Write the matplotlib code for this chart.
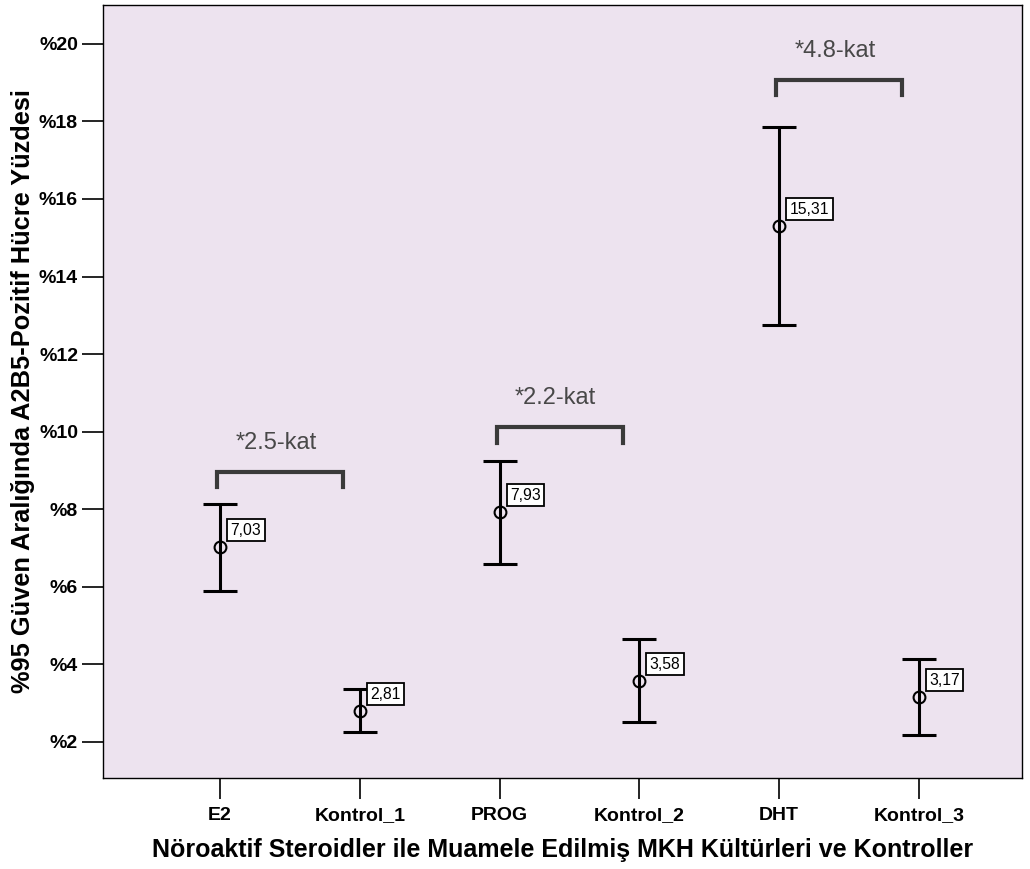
import matplotlib
matplotlib.use("Agg")
import matplotlib.pyplot as plt

plt.rcParams['font.family'] = ['Liberation Sans', 'DejaVu Sans']

# Groups and 95% confidence intervals of A2B5-positive cell percentages
groups = ["E2", "Kontrol_1", "PROG", "Kontrol_2", "DHT", "Kontrol_3"]
means = [7.03, 2.81, 7.93, 3.58, 15.31, 3.17]
ci_lower = [5.90, 2.26, 6.59, 2.52, 12.75, 2.18]
ci_upper = [8.13, 3.36, 9.24, 4.66, 17.85, 4.14]
value_labels = ["7,03", "2,81", "7,93", "3,58", "15,31", "3,17"]

# Fold-change comparisons: (treatment index, control index, bracket height, label)
comparisons = [(0, 1, 8.97, "*2.5-kat"), (2, 3, 10.12, "*2.2-kat"), (4, 5, 19.07, "*4.8-kat")]

yticks = [2, 4, 6, 8, 10, 12, 14, 16, 18, 20]
ytick_labels = ["%" + str(v) for v in yticks]

fig = plt.figure(figsize=(10.30, 8.69), dpi=100)
ax = fig.add_axes([0.100, 0.1047, 0.8922, 0.8895])
ax.set_facecolor('#EDE3EF')

x = list(range(len(groups)))
yerr = [[m - lo for m, lo in zip(means, ci_lower)],
        [hi - m for m, hi in zip(means, ci_upper)]]
ax.errorbar(x, means, yerr=yerr, fmt='none', ecolor='black',
            elinewidth=2.2, capsize=12.5, capthick=2.2, zorder=3)
ax.plot(x, means, 'o', markersize=8.5, markerfacecolor='none',
        markeredgecolor='black', markeredgewidth=1.5, zorder=4)

for xi, m, lab in zip(x, means, value_labels):
    ax.annotate(lab, (xi, m), xytext=(7.5, 6.5), textcoords='offset points',
                ha='left', va='bottom', fontsize=11.3, color='black',
                bbox=dict(boxstyle='square,pad=0.22', fc='white', ec='black', lw=1.3),
                zorder=5)

for i, j, h, lab in comparisons:
    left = i - 0.02
    right = j - 0.12
    ax.plot([left, left, right, right], [h - 0.40, h, h, h - 0.40],
            color='#3a3a3a', lw=3, solid_joinstyle='miter', zorder=2)
    ax.text((left + right) / 2 - 0.03, h + 0.74, lab, ha='center', va='center',
            fontsize=17, color='#484848', zorder=2)

ax.set_xlim(-0.837, 5.737)
ax.set_ylim(1.07, 21.0)
ax.set_xticks(x)
ax.set_xticklabels(groups, fontsize=14, fontweight='bold')
ax.set_yticks(yticks)
ax.set_yticklabels(ytick_labels, fontsize=14, fontweight='bold')
ax.tick_params(axis='both', direction='out', length=15, width=1.2, color='black')
ax.tick_params(axis='x', pad=6)
ax.tick_params(axis='y', pad=3)
for s in ax.spines.values():
    s.set_color('black')
    s.set_linewidth(1.0)

ax.set_xlabel("Nöroaktif Steroidler ile Muamele Edilmiş MKH Kültürleri ve Kontroller",
              fontsize=18, fontweight='bold', labelpad=10)
ax.set_ylabel("%95 Güven Aralığında A2B5-Pozitif Hücre Yüzdesi",
              fontsize=18.3, fontweight='bold', labelpad=3)

fig.savefig("out.png", dpi=100)
